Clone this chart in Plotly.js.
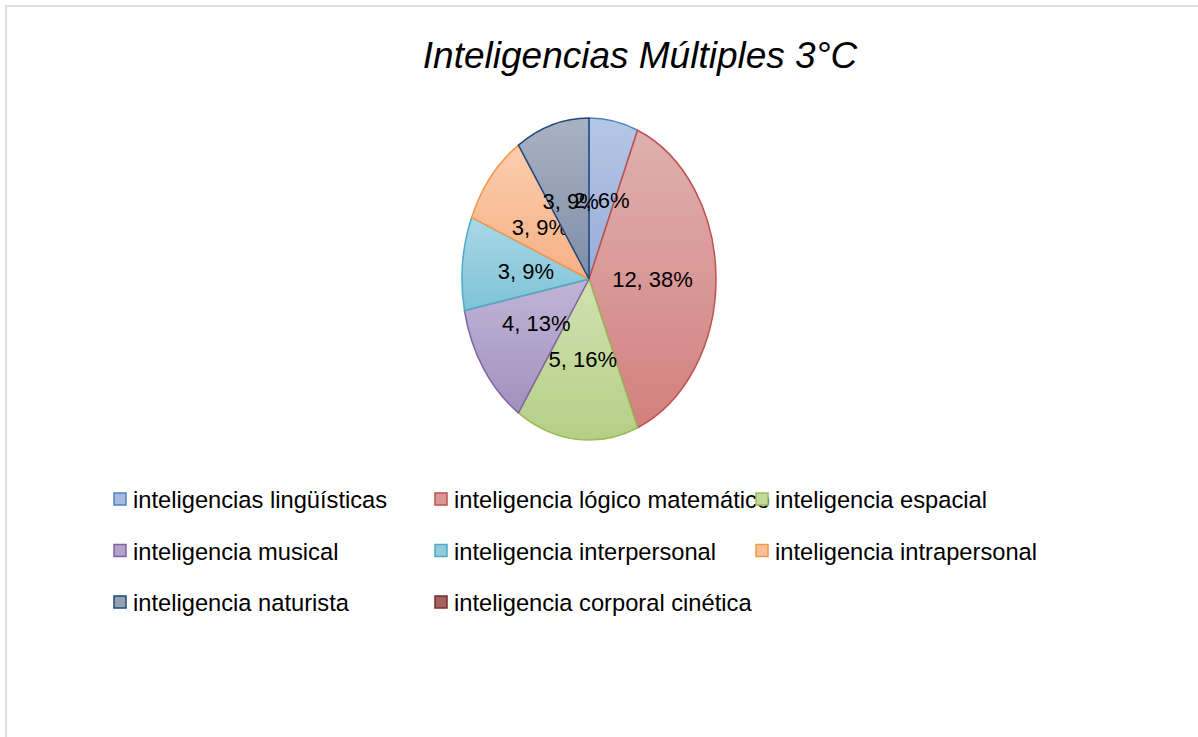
<!DOCTYPE html>
<html><head><meta charset="utf-8">
<script src="https://cdn.plot.ly/plotly-3.0.1.min.js"></script>
<style>
html,body{margin:0;padding:0;background:#fff;overflow:hidden}
#chart{position:absolute;left:0;top:0;width:1198px;height:737px}
#frame{position:absolute;left:5px;top:5px;width:1300px;height:900px;border:2px solid #dedede;pointer-events:none}
</style></head><body>
<div id="chart"></div><div id="frame"></div>
<script>
const chartTitle = 'Inteligencias Múltiples 3°C';
const categories = [
  'inteligencias lingüísticas',
  'inteligencia lógico matemático',
  'inteligencia espacial',
  'inteligencia musical',
  'inteligencia interpersonal',
  'inteligencia intrapersonal',
  'inteligencia naturista',
  'inteligencia corporal cinética'
];
const counts = [2, 12, 5, 4, 3, 3, 3, 0];
const fillColors = ['#a7badd', '#d99896', '#c3d89c', '#b1a3c9', '#93cbdc', '#f9bf98', '#939fb4', '#a3625f'];
const gradTop    = ['#b5c7e6', '#dfb0af', '#d0e2b2', '#c0b5d6', '#a9d8e7', '#fbcdae', '#a8b2c3', '#b0706d'];
const gradBottom = ['#98acd5', '#d2807e', '#b5cf86', '#a290be', '#7fc2d7', '#f7b185', '#7f8da6', '#944f4c'];
const lineColors = ['#4f81bd', '#c0504d', '#9bbb59', '#8064a2', '#4bacc6', '#f79646', '#1f497d', '#772c2a'];

const W = 1198, H = 737;
const font = 'Liberation Sans, Arial, sans-serif';

const trace = {
  type: 'pie',
  labels: categories,
  values: counts,
  sort: false,
  direction: 'clockwise',
  rotation: 0,
  texttemplate: '%{value}, %{percent:.0%}',
  textposition: 'inside',
  insidetextorientation: 'horizontal',
  textfont: {family: font, size: 22, color: '#000'},
  marker: {colors: fillColors, line: {color: lineColors, width: 1.5}},
  domain: {x: [428 / W, 750 / W], y: [297 / H, 619 / H]},
  hoverinfo: 'label+value+percent'
};

const layout = {
  width: W, height: H,
  margin: {l: 0, r: 0, t: 0, b: 0},
  paper_bgcolor: '#fff',
  font: {family: font, color: '#000'},
  title: {text: chartTitle, font: {family: font, size: 37, style: 'italic', color: '#000'},
          x: 640 / W, xanchor: 'center', y: 1 - 55 / H, yanchor: 'middle'},
  showlegend: true,
  legend: {orientation: 'h', x: 93 / W, xanchor: 'left', y: 1 - 477 / H, yanchor: 'top',
           entrywidth: 276, entrywidthmode: 'pixels', font: {family: font, size: 23.7, color: '#000'},
           bgcolor: 'rgba(0,0,0,0)', traceorder: 'normal'}
};

Plotly.newPlot('chart', [trace], layout, {staticPlot: true}).then(gd => {
  const svgNS = 'http://www.w3.org/2000/svg';
  const cdAll = gd.calcdata[0];
  const cx = cdAll[0].cx, cy = cdAll[0].cy;
  const kx = 254 / 322;
  // vertical gradients per slice
  const mainSvg = gd.querySelector('svg.main-svg');
  let defs = mainSvg.querySelector('defs');
  if (!defs) { defs = document.createElementNS(svgNS, 'defs'); mainSvg.insertBefore(defs, mainSvg.firstChild); }
  gd.querySelectorAll('.pielayer g.slice').forEach(s => {
    const d = s.__data__;
    const p = s.querySelector('path.surface');
    if (!d || !p) return;
    if (!(d.v > 0)) { s.style.display = 'none'; return; }
    const i = d.i;
    const lg = document.createElementNS(svgNS, 'linearGradient');
    lg.setAttribute('id', 'sliceGrad' + i);
    lg.setAttribute('x1', '0'); lg.setAttribute('y1', '0'); lg.setAttribute('x2', '0'); lg.setAttribute('y2', '1');
    [[0, gradTop[i]], [1, gradBottom[i]]].forEach(([o, c]) => {
      const st = document.createElementNS(svgNS, 'stop');
      st.setAttribute('offset', o); st.setAttribute('stop-color', c);
      lg.appendChild(st);
    });
    defs.appendChild(lg);
    p.setAttribute('transform', `translate(${cx},0) scale(${kx},1) translate(${-cx},0)`);
    p.style.vectorEffect = 'non-scaling-stroke';
    p.style.fill = `url(#sliceGrad${i})`;
  });
  // place labels at half radius along each slice's middle angle (ellipse coords)
  let firstText = null;
  gd.querySelectorAll('.pielayer g.slice').forEach(s => {
    const d = s.__data__;
    const g = s.querySelector('g.slicetext');
    if (!d || !g || !d.pxmid) return;
    const t = g.querySelector('text');
    if (!t) return;
    t.removeAttribute('transform');
    const bb = t.getBBox();
    const tx = cx + 0.5 * kx * d.pxmid[0];
    const ty = cy + 0.5 * d.pxmid[1];
    g.setAttribute('transform', `translate(${tx - (bb.x + bb.width / 2)},${ty - (bb.y + bb.height / 2)})`);
    if (d.i === 0) firstText = g;
  });
  if (firstText) firstText.parentNode.parentNode.appendChild(firstText);
  // spread legend rows and shift symbols
  const items = [...gd.querySelectorAll('.legend .traces')];
  const parse = el => {
    const m = /translate\(\s*([-\d.e]+)[ ,]+([-\d.e]+)/.exec(el.getAttribute('transform') || '');
    return m ? [parseFloat(m[1]), parseFloat(m[2])] : [0, 0];
  };
  const ys = [...new Set(items.map(el => Math.round(parse(el)[1])))].sort((a, b) => a - b);
  items.forEach(el => {
    const [x, y] = parse(el);
    const idx = ys.indexOf(Math.round(y));
    el.setAttribute('transform', `translate(${x},${ys[0] + idx * 51.5})`);
    const lp = el.querySelector('.legendpoints');
    if (lp) lp.setAttribute('transform', 'translate(7,0)');
  });
  gd.querySelectorAll('.legend .scrollbox').forEach(s => s.removeAttribute('clip-path'));
});
</script>
</body></html>
